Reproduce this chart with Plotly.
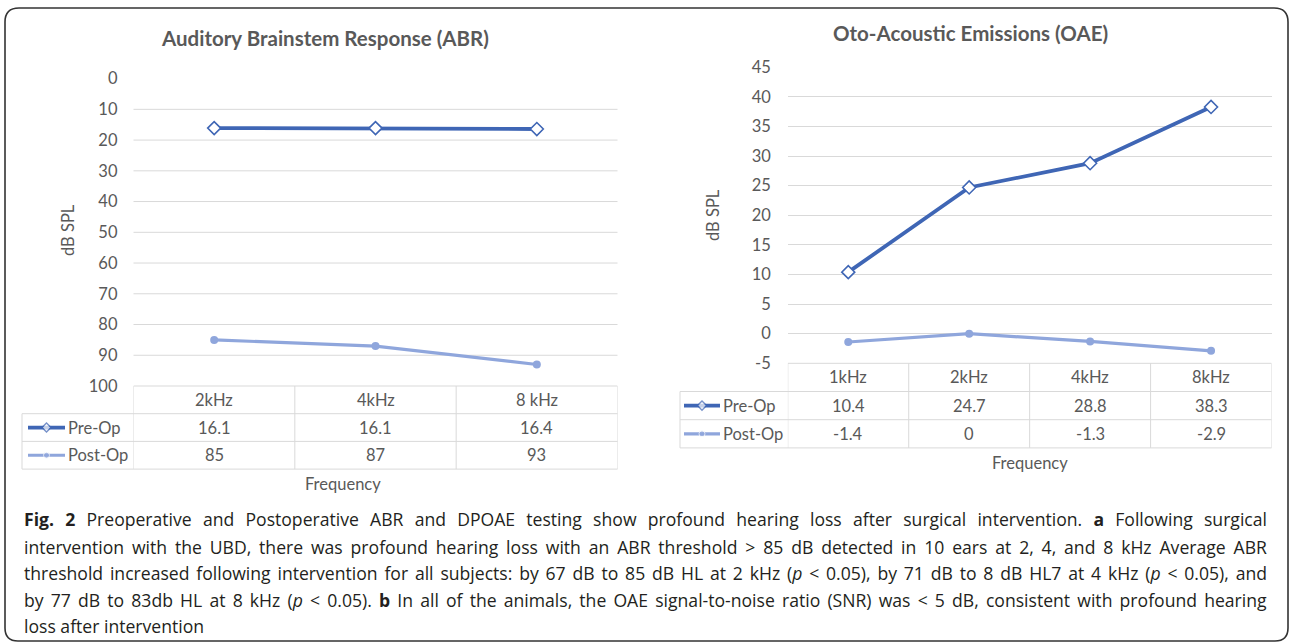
import plotly.graph_objects as go

# ---------------- data ----------------
abr_freq = ["2kHz", "4kHz", "8 kHz"]
abr_pre = [16.1, 16.1, 16.4]
abr_post = [85, 87, 93]

oae_freq = ["1kHz", "2kHz", "4kHz", "8kHz"]
oae_pre = [10.4, 24.7, 28.8, 38.3]
oae_post = [-1.4, 0, -1.3, -2.9]

abr_ticks = list(range(0, 101, 10))
oae_ticks = list(range(-5, 46, 5))

series_names = ["Pre-Op", "Post-Op"]

caption_lines = [
    "<b>Fig. 2</b> Preoperative and Postoperative ABR and DPOAE testing show profound hearing loss after surgical intervention. <b>a</b> Following surgical",
    "intervention with the UBD, there was profound hearing loss with an ABR threshold &gt; 85 dB detected in 10 ears at 2, 4, and 8 kHz Average ABR",
    "threshold increased following intervention for all subjects: by 67 dB to 85 dB HL at 2 kHz (<i>p</i> &lt; 0.05), by 71 dB to 8 dB HL7 at 4 kHz (<i>p</i> &lt; 0.05), and",
    "by 77 dB to 83db HL at 8 kHz (<i>p</i> &lt; 0.05). <b>b</b> In all of the animals, the OAE signal-to-noise ratio (SNR) was &lt; 5 dB, consistent with profound hearing",
    "loss after intervention",
]

# ---------------- style ----------------
W, H = 1290, 643
PRE_C = "#3f66b5"
POST_C = "#8fa6dc"
GRID_C = "#d9d9d9"
TXT_C = "#595959"
CHART_FONT = "Lato"
CAP_FONT = "Open Sans"
CHART_SIZE = 16.5


def px(x):
    return x / W


def py(y):
    return 1 - y / H


fig = go.Figure()

# ---------------- geometry (pixels) ----------------
L = dict(x0=133.5, x1=617.5, y0=78.6, y1=386.0, tab_left=22, row_h=27.7,
         title=(325, 38), ytitle=(68, 230), xtitle=(343, 484), leg_x=(28, 65))
R = dict(x0=787.8, x1=1271.5, y0=67.3, y1=363.3, tab_left=680, row_h=28.2,
         title=(970, 33), ytitle=(713, 215), xtitle=(1030, 463), leg_x=(684, 720))

tickfont = dict(family=CHART_FONT, size=CHART_SIZE, color=TXT_C)
fig.update_layout(
    template="none",
    width=W, height=H, margin=dict(l=0, r=0, t=0, b=0, pad=0, autoexpand=False),
    paper_bgcolor="white", plot_bgcolor="rgba(0,0,0,0)", showlegend=False,
    xaxis=dict(domain=[px(L["x0"]), px(L["x1"])], type="category", range=[-0.5, len(abr_freq) - 0.5],
               showticklabels=False, showgrid=False, zeroline=False, showline=False, ticks="",
               anchor="y", automargin=False),
    yaxis=dict(domain=[py(L["y1"]), py(L["y0"])], range=[100, 0], tickvals=abr_ticks,
               ticktext=[str(v) for v in abr_ticks], ticks="",
               showgrid=False, zeroline=False, showline=False, anchor="x", automargin=False,
               tickfont=tickfont, ticklabelstandoff=15),
    xaxis2=dict(domain=[px(R["x0"]), px(R["x1"])], type="category", range=[-0.5, len(oae_freq) - 0.5],
                showticklabels=False, showgrid=False, zeroline=False, showline=False, ticks="",
                anchor="y2", automargin=False),
    yaxis2=dict(domain=[py(R["y1"]), py(R["y0"])], range=[-5, 45], tickvals=oae_ticks,
                ticktext=[str(v) for v in oae_ticks], ticks="",
                showgrid=True, gridcolor=GRID_C, gridwidth=1, zeroline=False, showline=False, anchor="x2",
                automargin=False, tickfont=tickfont, ticklabelstandoff=16),
    xaxis3=dict(domain=[0, 1], range=[0, W], visible=False, anchor="y3", fixedrange=True, automargin=False),
    yaxis3=dict(domain=[0, 1], range=[H, 0], visible=False, anchor="x3", fixedrange=True, automargin=False),
)

shapes = []
annotations = []

# left gridlines (no line at top 0, table border at 100)
for v in abr_ticks[1:-1]:
    shapes.append(dict(type="line", xref="x domain", yref="y", x0=0, x1=1, y0=v, y1=v,
                       line=dict(color=GRID_C, width=1), layer="below"))


def add_series(xa, ya, cats, pre, post):
    fig.add_trace(go.Scatter(x=cats, y=post, xaxis=xa, yaxis=ya, mode="lines+markers",
                             line=dict(color=POST_C, width=3.2),
                             marker=dict(symbol="circle", size=8, color=POST_C), name="Post-Op"))
    fig.add_trace(go.Scatter(x=cats, y=pre, xaxis=xa, yaxis=ya, mode="lines+markers",
                             line=dict(color=PRE_C, width=3.8),
                             marker=dict(symbol="diamond", size=10, color="white",
                                         line=dict(color=PRE_C, width=1.6)), name="Pre-Op"))


add_series("x", "y", abr_freq, abr_pre, abr_post)
add_series("x2", "y2", oae_freq, oae_pre, oae_post)


def add_table(G, xref, cats, pre, post):
    top = G["y1"]
    rh = G["row_h"]
    r1, r2, bot = top + rh, top + 2 * rh, top + 3 * rh
    n = len(cats)
    lc = dict(color=GRID_C, width=1)
    shapes.append(dict(type="line", xref=xref, yref="paper", x0=-0.5, x1=n - 0.5,
                       y0=py(top), y1=py(top), line=lc))
    for i in range(n + 1):
        shapes.append(dict(type="line", xref=xref, yref="paper", x0=i - 0.5, x1=i - 0.5,
                           y0=py(top), y1=py(bot), line=lc))
    for yy in (r1, r2, bot):
        shapes.append(dict(type="line", xref="paper", yref="paper", x0=px(G["tab_left"]), x1=px(G["x1"]),
                           y0=py(yy), y1=py(yy), line=lc))
    shapes.append(dict(type="line", xref="paper", yref="paper", x0=px(G["tab_left"]), x1=px(G["tab_left"]),
                       y0=py(r1), y1=py(bot), line=lc))
    tf = dict(family=CHART_FONT, size=CHART_SIZE, color=TXT_C)
    for i, c in enumerate(cats):
        annotations.append(dict(xref=xref, yref="paper", x=c, y=py(top + rh / 2), text=c,
                                showarrow=False, font=tf, xanchor="center", yanchor="middle"))
        annotations.append(dict(xref=xref, yref="paper", x=c, y=py(r1 + rh / 2), text=f"{pre[i]:g}",
                                showarrow=False, font=tf, xanchor="center", yanchor="middle"))
        annotations.append(dict(xref=xref, yref="paper", x=c, y=py(r2 + rh / 2), text=f"{post[i]:g}",
                                showarrow=False, font=tf, xanchor="center", yanchor="middle"))
    lx0, lx1 = G["leg_x"]
    for k, (name, col) in enumerate(zip(series_names, [PRE_C, POST_C])):
        yy = r1 + rh / 2 + k * rh
        if k == 0:
            mk = dict(symbol="diamond", size=[0, 7, 0], color="white", line=dict(color=PRE_C, width=1.4))
            lw = 3.8
        else:
            mk = dict(symbol="circle", size=[0, 6, 0], color=POST_C)
            lw = 3.2
        fig.add_trace(go.Scatter(x=[lx0, (lx0 + lx1) / 2, lx1], y=[yy, yy, yy], xaxis="x3", yaxis="y3",
                                 mode="lines+markers", line=dict(color=col, width=lw), marker=mk,
                                 hoverinfo="skip"))
        annotations.append(dict(xref="paper", yref="paper", x=px(lx1 + 1), y=py(yy), text=name,
                                showarrow=False, font=tf, xanchor="left", yanchor="middle"))
    annotations.append(dict(xref="paper", yref="paper", x=px(G["xtitle"][0]), y=py(G["xtitle"][1]),
                            text="Frequency", showarrow=False, font=tf, xanchor="center", yanchor="middle"))
    annotations.append(dict(xref="paper", yref="paper", x=px(G["ytitle"][0]), y=py(G["ytitle"][1]),
                            text="dB SPL", textangle=-90, showarrow=False, font=tf,
                            xanchor="center", yanchor="middle"))


add_table(L, "x", abr_freq, abr_pre, abr_post)
add_table(R, "x2", oae_freq, oae_pre, oae_post)

titles = ["Auditory Brainstem Response (ABR)", "Oto-Acoustic Emissions (OAE)"]
for G, t in zip((L, R), titles):
    annotations.append(dict(xref="paper", yref="paper", x=px(G["title"][0]), y=py(G["title"][1]),
                            text=f"<b>{t}</b>", showarrow=False,
                            font=dict(family=CHART_FONT, size=20.5, color=TXT_C),
                            xanchor="center", yanchor="middle"))

# caption
cap_y = [519, 546.5, 573, 600, 626]
for line, yy in zip(caption_lines, cap_y):
    annotations.append(dict(xref="paper", yref="paper", x=px(22), y=py(yy), text=line, showarrow=False,
                            font=dict(family=CAP_FONT, size=17.6, color="#231f20"),
                            xanchor="left", yanchor="middle", align="left"))

# outer rounded frame
shapes.append(dict(type="path", xref="x3", yref="y3",
                   path="M 5,22 Q 5,8 19,8 L 1274,8 Q 1288,8 1288,22 L 1288,628 Q 1288,641 1275,641 "
                        "L 18,641 Q 5,641 5,628 Z",
                   line=dict(color="#333333", width=1.6), fillcolor="rgba(0,0,0,0)"))

fig.update_layout(shapes=shapes, annotations=annotations)

# page placement + justified caption (word spacing) after render
post = """
var gd = document.getElementById('{plot_id}');
document.documentElement.style.margin = '0';
document.body.style.margin = '0';
document.body.style.padding = '0';
document.documentElement.style.overflow = 'hidden';
gd.style.position = 'absolute';
gd.style.left = '0px';
gd.style.top = '0px';
var TARGET = 1265 - 22;
var texts = gd.querySelectorAll('.annotation-text');
texts.forEach(function(t) {
  var fam = (t.style.fontFamily || '');
  var s = t.textContent;
  if (fam.indexOf('Open Sans') >= 0 && s.indexOf('loss after intervention') !== 0) {
    var n = (s.match(/ /g) || []).length;
    var w = t.getBBox().width;
    if (n > 0 && w < TARGET) {
      t.style.wordSpacing = ((TARGET - w) / n) + 'px';
    }
  }
});
"""
fig.write_html("out.html", post_script=post, config={"displayModeBar": False})
